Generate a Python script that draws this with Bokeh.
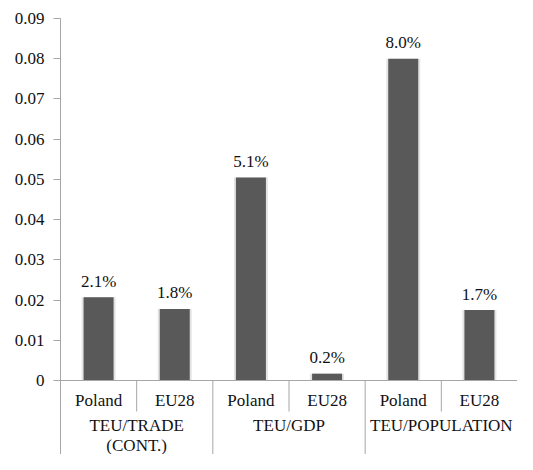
from bokeh.plotting import figure
from bokeh.models import Range1d, FixedTicker, Span, ColumnDataSource, CustomJSTickFormatter
from bokeh.core.properties import value
from bokeh.embed import file_html
from bokeh.resources import INLINE

# ---- data ----
categories = ["Poland", "EU28", "Poland", "EU28", "Poland", "EU28"]
groups = ["TEU/TRADE\n(CONT.)", "TEU/GDP", "TEU/POPULATION"]
values = [0.0207, 0.0178, 0.0505, 0.0017, 0.0800, 0.0175]
value_labels = ["2.1%", "1.8%", "5.1%", "0.2%", "8.0%", "1.7%"]
y_ticks = [0, 0.01, 0.02, 0.03, 0.04, 0.05, 0.06, 0.07, 0.08, 0.09]

# ---- layout ----
W, H = 517, 454
TOP, LEFT = 18, 60
frame_h = H - TOP
frame_w = W - LEFT
zero_px = 362                      # px from top of frame to value 0
k = zero_px / 0.09                 # px per data unit
y_bottom = -(frame_h - zero_px) / k
cat_px = frame_w / len(categories)

FNAME = "Liberation Serif"
FONT = value(FNAME)
TXT = "#111111"
AX = "#a6a6a6"

p = figure(width=W, height=H, x_range=Range1d(0, len(categories)),
           y_range=Range1d(y_bottom, 0.09), output_backend="svg",
           toolbar_location=None, x_axis_location=None,
           min_border_top=TOP, min_border_bottom=0, min_border_left=LEFT,
           min_border_right=0)
p.outline_line_color = None
p.xgrid.visible = False
p.ygrid.visible = False
p.background_fill_color = "white"

ax = p.yaxis[0]
ax.ticker = FixedTicker(ticks=y_ticks)
ax.formatter = CustomJSTickFormatter(code="return tick == 0 ? '0' : tick.toFixed(2);")
ax.axis_line_color = AX
ax.major_tick_line_color = AX
ax.major_tick_out = 7
ax.major_tick_in = 0
ax.minor_tick_line_color = None
ax.major_label_standoff = 9
ax.major_label_text_font = FNAME
ax.major_label_text_font_size = "17px"
ax.major_label_text_color = TXT

p.add_layout(Span(location=0, dimension="width", line_color=AX, line_width=1))

xs = [i + 0.5 for i in range(len(categories))]
src = ColumnDataSource(dict(x=xs, top=values, cat=categories, lab=value_labels,
                            lab_y=[v + 16 / k for v in values]))

bw = 30 / cat_px
# soft shadow around bars
p.vbar(x="x", top="top", bottom=0, width=bw + 4 / cat_px, source=src,
       fill_color="#e4e4e4", line_color=None)
p.vbar(x="x", top="top", bottom=0, width=bw, source=src,
       fill_color="#595959", line_color=None)

p.text(x="x", y="lab_y", text="lab", source=src, text_font=FONT,
       text_font_size="17px", text_color=TXT, text_align="center",
       text_baseline="middle")

p.text(x="x", y=-20 / k, text="cat", source=src, text_font=FONT,
       text_font_size="17px", text_color=TXT, text_align="center",
       text_baseline="middle")

# separators
short_x = [1, 3, 5]
long_x = [2, 4]
p.segment(x0=short_x, y0=[0] * 3, x1=short_x, y1=[-31 / k] * 3, line_color=AX, line_width=1)
p.segment(x0=long_x, y0=[0] * 2, x1=long_x, y1=[y_bottom] * 2, line_color=AX, line_width=1)

gsrc = ColumnDataSource(dict(x=[1, 3, 5], g=groups))
p.text(x="x", y=-35 / k, text="g", source=gsrc, text_font=FONT,
       text_font_size="17px", text_color=TXT, text_align="center",
       text_baseline="top", text_line_height=1.1)

open("out.html", "w").write(file_html(p, INLINE))
